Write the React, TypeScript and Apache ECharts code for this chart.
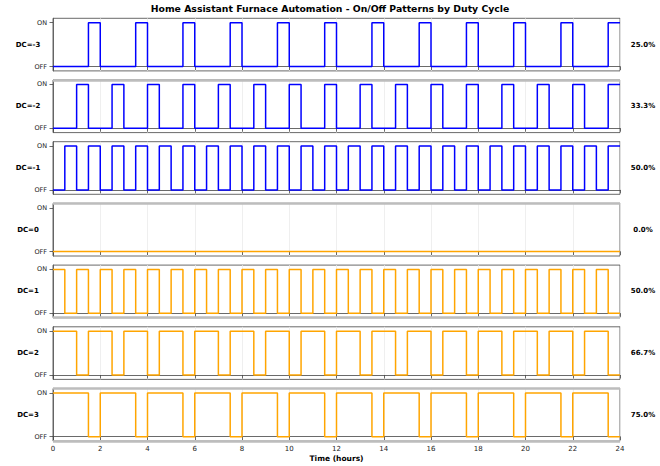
import { useEffect, useRef } from 'react'
import * as echarts from 'echarts'

// duty-cycle rows, top to bottom
const dcLabels = ['DC=-3', 'DC=-2', 'DC=-1', 'DC=0', 'DC=1', 'DC=2', 'DC=3']
const dutyLabels = ['25.0%', '33.3%', '50.0%', '0.0%', '50.0%', '66.7%', '75.0%']
const lineColors = ['#0000ff', '#0000ff', '#0000ff', '#ffa500', '#ffa500', '#ffa500', '#ffa500']

// ON intervals (hours)
const onDcM3 = [
  [1.5, 2], [3.5, 4], [5.5, 6], [7.5, 8], [9.5, 10], [11.5, 12],
  [13.5, 14], [15.5, 16], [17.5, 18], [19.5, 20], [21.5, 22], [23.5, 24],
]
const onDcM2 = [
  [1, 1.5], [2.5, 3], [4, 4.5], [5.5, 6], [7, 7.5], [8.5, 9], [10, 10.5], [11.5, 12],
  [13, 13.5], [14.5, 15], [16, 16.5], [17.5, 18], [19, 19.5], [20.5, 21], [22, 22.5], [23.5, 24],
]
const onDcM1 = [
  [0.5, 1], [1.5, 2], [2.5, 3], [3.5, 4], [4.5, 5], [5.5, 6], [6.5, 7], [7.5, 8],
  [8.5, 9], [9.5, 10], [10.5, 11], [11.5, 12], [12.5, 13], [13.5, 14], [14.5, 15], [15.5, 16],
  [16.5, 17], [17.5, 18], [18.5, 19], [19.5, 20], [20.5, 21], [21.5, 22], [22.5, 23], [23.5, 24],
]
const onDc0: number[][] = []
const onDc1 = [
  [0, 0.5], [1, 1.5], [2, 2.5], [3, 3.5], [4, 4.5], [5, 5.5], [6, 6.5], [7, 7.5],
  [8, 8.5], [9, 9.5], [10, 10.5], [11, 11.5], [12, 12.5], [13, 13.5], [14, 14.5], [15, 15.5],
  [16, 16.5], [17, 17.5], [18, 18.5], [19, 19.5], [20, 20.5], [21, 21.5], [22, 22.5], [23, 23.5],
]
const onDc2 = [
  [0, 1], [1.5, 2.5], [3, 4], [4.5, 5.5], [6, 7], [7.5, 8.5], [9, 10], [10.5, 11.5],
  [12, 13], [13.5, 14.5], [15, 16], [16.5, 17.5], [18, 19], [19.5, 20.5], [21, 22], [22.5, 23.5],
]
const onDc3 = [
  [0, 1.5], [2, 3.5], [4, 5.5], [6, 7.5], [8, 9.5], [10, 11.5],
  [12, 13.5], [14, 15.5], [16, 17.5], [18, 19.5], [20, 21.5], [22, 23.5],
]
const onIntervals = [onDcM3, onDcM2, onDcM1, onDc0, onDc1, onDc2, onDc3]

// light grey band along the top / bottom edge of some panels
const topBand = [false, true, false, true, false, false, true]
const bottomBand = [false, false, false, false, true, false, true]

// turn ON intervals into a step polyline
function toSteps(on: number[][]) {
  if (on.length === 0) return [[0, 0], [24, 0]]
  const pts: number[][] = [[0, on[0][0] === 0 ? 1 : 0]]
  for (const [a, b] of on) {
    if (a > 0) pts.push([a, 0], [a, 1])
    pts.push([b, 1])
    if (b < 24) pts.push([b, 0])
  }
  if (on[on.length - 1][1] < 24) pts.push([24, 0])
  return pts
}

const LEFT = 53
const WIDTH = 567
const TOP0 = 18.3
const PITCH = 61.7
const PANEL_H = 52.6
const FONT = 'DejaVu Sans'

export default function App() {
  const ref = useRef<HTMLDivElement>(null)

  useEffect(() => {
    if (!ref.current) return
    const chart = echarts.init(ref.current, undefined, { renderer: 'svg' })
    const n = dcLabels.length

    const grids = dcLabels.map((_, i) => ({
      left: LEFT,
      width: WIDTH,
      top: TOP0 + i * PITCH,
      height: PANEL_H,
      show: true,
      borderColor: '#444',
      borderWidth: 0.8,
      backgroundColor: '#fff',
    }))

    const xAxes = dcLabels.map((_, i) => ({
      type: 'value' as const,
      gridIndex: i,
      min: 0,
      max: 24,
      interval: 2,
      axisLine: { show: true, lineStyle: { color: '#444', width: 0.8 } },
      axisTick: { show: true, length: 3.5, lineStyle: { color: '#444', width: 0.8 } },
      axisLabel: {
        show: i === n - 1,
        color: '#222',
        fontSize: 7,
        fontFamily: FONT,
        margin: 4.5,
        showMinLabel: true,
        showMaxLabel: true,
      },
      splitLine: { show: true, lineStyle: { color: '#ebebeb', width: 0.8 } },
      name: i === n - 1 ? 'Time (hours)' : '',
      nameLocation: 'middle' as const,
      nameGap: 13,
      nameTextStyle: { fontFamily: FONT, fontWeight: 'bold' as const, fontSize: 7.5, color: '#000' },
    }))

    const yAxes = dcLabels.map((_, i) => ({
      type: 'value' as const,
      gridIndex: i,
      min: -0.1,
      max: 1.1,
      axisLine: { show: true, lineStyle: { color: '#444', width: 0.8 } },
      axisTick: { show: true, length: 3.5, customValues: [0, 1], lineStyle: { color: '#444', width: 0.8 } },
      axisLabel: {
        show: true,
        customValues: [0, 1],
        formatter: (v: number) => (v === 1 ? 'ON' : 'OFF'),
        color: '#222',
        fontSize: 6.5,
        fontFamily: FONT,
        margin: 6,
      },
      splitLine: { show: false },
    }))

    const series = onIntervals.map((on, i) => {
      const bands: { yAxis: number }[] = []
      if (topBand[i]) bands.push({ yAxis: 1.1 })
      if (bottomBand[i]) bands.push({ yAxis: -0.1 })
      return {
        type: 'line' as const,
        xAxisIndex: i,
        yAxisIndex: i,
        data: toSteps(on),
        showSymbol: false,
        symbol: 'none',
        clip: true,
        lineStyle: { color: lineColors[i], width: 1.5 },
        markLine: bands.length
          ? {
              silent: true,
              symbol: 'none',
              label: { show: false },
              lineStyle: { color: '#bdbdbd', width: 2.5, type: 'solid' as const },
              data: bands,
            }
          : undefined,
      }
    })

    const labelStyle = (t: string) => ({
      text: t,
      align: 'center' as const,
      verticalAlign: 'middle' as const,
      font: `bold 7px "${FONT}"`,
      fill: '#000',
    })

    const graphics = [
      {
        type: 'text' as const,
        x: 330,
        y: 8,
        style: {
          text: 'Home Assistant Furnace Automation - On/Off Patterns by Duty Cycle',
          align: 'center' as const,
          verticalAlign: 'middle' as const,
          font: `bold 9.3px "${FONT}"`,
          fill: '#000',
        },
      },
      ...dcLabels.map((t, i) => ({
        type: 'text' as const,
        x: 28,
        y: TOP0 + i * PITCH + PANEL_H / 2,
        style: labelStyle(t),
      })),
      ...dutyLabels.map((t, i) => ({
        type: 'text' as const,
        x: 643,
        y: TOP0 + i * PITCH + PANEL_H / 2,
        style: labelStyle(t),
      })),
    ]

    chart.setOption({
      animation: false,
      backgroundColor: '#fff',
      textStyle: { fontFamily: FONT },
      grid: grids,
      xAxis: xAxes,
      yAxis: yAxes,
      series,
      graphic: graphics,
    })

    return () => chart.dispose()
  }, [])

  return (
    <div
      ref={ref}
      style={{ position: 'fixed', left: 0, top: 0, width: 660, height: 466 }}
    />
  )
}
